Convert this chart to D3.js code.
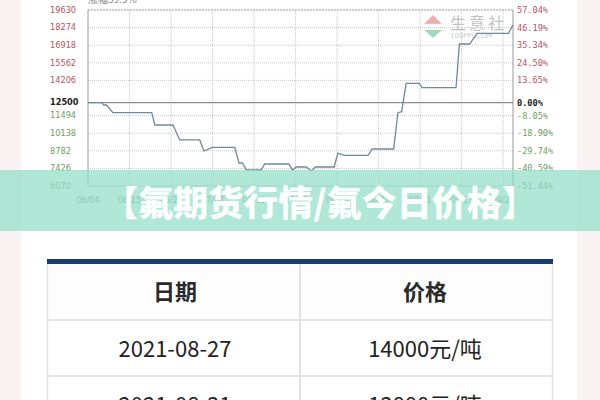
<!DOCTYPE html>
<html><head><meta charset="utf-8">
<script src="https://cdn.jsdelivr.net/npm/d3@7"></script>
<style>html,body{margin:0;padding:0;background:#fff;}svg{display:block;}</style>
</head><body>
<script>
// ---- data ----
const yTicks = [19630, 18274, 16918, 15562, 14206, 12500, 11494, 10138, 8782, 7426, 6070];
const pctLabels = ["57.04%", "46.19%", "35.34%", "24.50%", "13.65%", "0.00%", "-8.05%", "-18.90%", "-29.74%", "-40.59%", "-51.44%"];
const baseValue = 12500;
const xLabels = ["06/04", "06/15", "06/26", "07/07", "07/18", "07/29", "08/09", "08/20", "08/31", "09/11", "09/24"];
const xLabelDays = [0, 11, 22, 33, 44, 55, 66, 77, 88, 99, 110];
// price line: day offset since 06/04 and price
const days =   [0, 3.6, 4.2, 4.9, 6.6, 16.9, 17.7, 22.5, 24.3, 29.6, 30.7, 33.0, 38.9, 40.0, 40.9, 42.0, 45.9, 46.8, 53.2, 54.2, 55.2, 57.8, 59.2, 60.3, 65.2, 66.2, 68.0, 74.2, 75.3, 81.0, 82.1, 83.1, 84.3, 87.8, 88.5, 97.5, 98.4, 101.1, 103.1, 111.4, 112.6];
const prices = [12500, 12500, 12310, 12310, 11717, 11717, 10770, 10770, 9620, 9620, 8767, 9052, 9052, 7842, 7842, 7303, 7303, 7765, 7765, 7303, 7534, 7534, 7226, 7534, 7534, 8589, 8435, 8435, 8921, 8921, 11717, 11794, 13983, 13983, 13643, 13643, 17010, 17010, 17835, 17835, 18474];
const titleText = "【氟期货行情/氟今日价格】";
const tableHeaders = ["日期", "价格"];
const tableDates = ["2021-08-27", "2021-08-31"];
const tablePrices = ["14000元/吨", "13800元/吨"];

// ---- drawing ----
const W = 600, H = 400;
const svg = d3.select("body").append("svg").attr("width", W).attr("height", H);

// page background strips
svg.append("rect").attr("x", 0).attr("y", 0).attr("width", W).attr("height", H).attr("fill", "#f9f3f4");
svg.append("rect").attr("x", 21).attr("y", 0).attr("width", 556).attr("height", H).attr("fill", "#ffffff");

const L = 88, R = 513, T = 10, B = 186;
const x = d3.scaleLinear().domain([0, 112.6]).range([L, R]);
const y = d3.scaleLinear().domain([6070, 19630]).range([B, T]);

// partially visible header text
svg.append("text").attr("x", 88).attr("y", 3).attr("font-family", "Noto Sans CJK SC").attr("font-size", 10)
  .attr("fill", "#888").text("涨幅59.9%");

// watermark
const wm = svg.append("g").attr("opacity", 0.6);
wm.append("path").attr("d", "M433,15 L442,24 L424,24 Z").attr("fill", "#e07a7a");
wm.append("rect").attr("x", 424).attr("y", 24).attr("width", 18).attr("height", 6).attr("fill", "#fff").attr("stroke", "#ddd").attr("stroke-width", 0.5);
wm.append("path").attr("d", "M424,30 L442,30 L433,38 Z").attr("fill", "#6cc08a");
wm.append("text").attr("x", 450).attr("y", 29).attr("font-family", "Noto Sans CJK SC").attr("font-size", 16)
  .attr("letter-spacing", 3).attr("fill", "#999").text("生意社");
wm.append("text").attr("x", 450).attr("y", 38).attr("font-family", "DejaVu Sans").attr("font-size", 7)
  .attr("fill", "#aaa").text("100PPI.COM");

// grid
const grid = svg.append("g");
grid.selectAll("line.h").data(yTicks.filter(v => v !== baseValue && v !== 19630 && v !== 6070)).join("line")
  .attr("x1", L).attr("x2", R).attr("y1", d => y(d)).attr("y2", d => y(d))
  .attr("stroke", "#c8c8c8").attr("stroke-dasharray", "1,1");
grid.selectAll("line.v").data(xLabelDays.slice(1)).join("line")
  .attr("x1", d => x(d)).attr("x2", d => x(d)).attr("y1", T).attr("y2", B)
  .attr("stroke", "#c8c8c8").attr("stroke-dasharray", "1,1");
// border
svg.append("line").attr("x1", L).attr("x2", R).attr("y1", T).attr("y2", T).attr("stroke", "#999").attr("stroke-dasharray", "2,1");
svg.append("line").attr("x1", L).attr("x2", R).attr("y1", B).attr("y2", B).attr("stroke", "#bbb");
svg.append("line").attr("x1", L).attr("x2", L).attr("y1", T).attr("y2", B).attr("stroke", "#999");
svg.append("line").attr("x1", R).attr("x2", R).attr("y1", T).attr("y2", B).attr("stroke", "#999");
// base line
svg.append("line").attr("x1", L).attr("x2", R).attr("y1", y(baseValue)).attr("y2", y(baseValue)).attr("stroke", "#8a8a8a").attr("stroke-width", 1.2);

// left labels
const colorFor = v => v > baseValue ? "#b8525c" : (v < baseValue ? "#6f9e63" : "#222");
svg.append("g").selectAll("text").data(yTicks).join("text")
  .attr("x", 50).attr("y", d => y(d)).attr("dy", "0.35em")
  .attr("font-family", "DejaVu Sans").attr("font-size", 8.2)
  .attr("fill", colorFor).attr("font-weight", d => d === baseValue ? "bold" : "normal")
  .text(d => d);
// right labels
svg.append("g").selectAll("text").data(yTicks).join("text")
  .attr("x", 517).attr("y", d => y(d)).attr("dy", "0.35em")
  .attr("font-family", "DejaVu Sans Mono").attr("font-size", 8.6)
  .attr("fill", colorFor).attr("font-weight", d => d === baseValue ? "bold" : "normal")
  .text((d, i) => pctLabels[i]);
// x labels
svg.append("g").selectAll("text").data(xLabelDays).join("text")
  .attr("x", d => x(d)).attr("y", 200).attr("dy", "0.35em").attr("text-anchor", "middle")
  .attr("font-family", "DejaVu Sans").attr("font-size", 8).attr("fill", "#888")
  .text((d, i) => xLabels[i]);

// price line
const pts = days.map((d, i) => [d, prices[i]]);
svg.append("path").datum(pts)
  .attr("d", d3.line().x(d => x(d[0])).y(d => y(d[1])))
  .attr("fill", "none").attr("stroke", "#71899a").attr("stroke-width", 1.3);

// banner
svg.append("rect").attr("x", 0).attr("y", 170).attr("width", W).attr("height", 61)
  .attr("fill", "rgb(146,222,200)").attr("opacity", 0.72);
svg.append("text").attr("x", 320).attr("y", 203).attr("dy", "0.36em").attr("text-anchor", "middle")
  .attr("font-family", "Noto Sans CJK SC").attr("font-weight", 900).attr("font-size", 35)
  .attr("fill", "#fff").attr("fill-opacity", 0.97).text(titleText);

// table
const tL = 47, tR = 553, tMid = 300;
const rowTops = [264, 320, 376];
svg.append("rect").attr("x", tL).attr("y", 259).attr("width", tR - tL).attr("height", 5).attr("fill", "#1c3a72");
svg.append("rect").attr("x", tL).attr("y", 264).attr("width", tR - tL).attr("height", 56).attr("fill", "#fdfdfd");
svg.append("line").attr("x1", tL + 0.5).attr("x2", tL + 0.5).attr("y1", 264).attr("y2", H).attr("stroke", "#e2e2e2").attr("stroke-width", 1.5);
svg.append("line").attr("x1", tR - 0.5).attr("x2", tR - 0.5).attr("y1", 264).attr("y2", H).attr("stroke", "#e2e2e2").attr("stroke-width", 1.5);
svg.append("line").attr("x1", tMid).attr("x2", tMid).attr("y1", 264).attr("y2", H).attr("stroke", "#e2e2e2").attr("stroke-width", 2);
[320, 376].forEach(yy => svg.append("line").attr("x1", tL).attr("x2", tR).attr("y1", yy).attr("y2", yy).attr("stroke", "#e4e4e4").attr("stroke-width", 2));

const colX = [175, 425];
svg.append("g").selectAll("text").data(tableHeaders).join("text")
  .attr("x", (d, i) => colX[i]).attr("y", 292).attr("dy", "0.36em").attr("text-anchor", "middle")
  .attr("font-family", "Noto Sans CJK SC").attr("font-weight", "bold").attr("font-size", 22)
  .attr("fill", "#2a2a2a").text(d => d);
const rows = tableDates.map((d, i) => [d, tablePrices[i]]);
rows.forEach((r, ri) => {
  r.forEach((c, ci) => {
    svg.append("text").attr("x", colX[ci]).attr("y", rowTops[ri + 1] + 29).attr("dy", "0.36em").attr("text-anchor", "middle")
      .attr("font-family", "Noto Sans CJK SC").attr("font-size", 22).attr("fill", "#222").text(c);
  });
});
</script>
</body></html>
